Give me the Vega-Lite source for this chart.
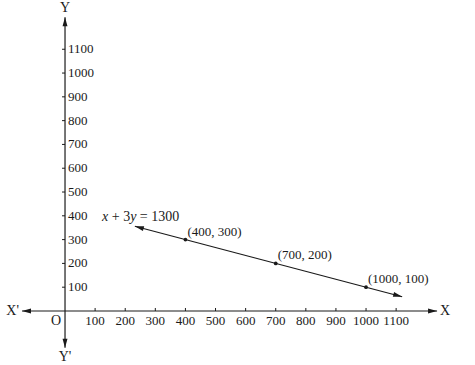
{
  "$schema": "https://vega.github.io/schema/vega-lite/v6.json",
  "width": 475,
  "height": 365,
  "padding": 0,
  "autosize": {"type": "none"},
  "background": "white",
  "config": {"view": {"stroke": null}, "text": {"font": "Liberation Serif", "fontSize": 13, "color": "#1a1a1a"}},
  "datasets": {
    "axes": [{"x": -143, "y": 0, "x2": 1236, "y2": 0}, {"x": 0, "y": -155, "x2": 0, "y2": 1235}],
    "xticks": [
      {"x": 100, "y": 0, "label": "100"}, {"x": 200, "y": 0, "label": "200"}, {"x": 300, "y": 0, "label": "300"},
      {"x": 400, "y": 0, "label": "400"}, {"x": 500, "y": 0, "label": "500"}, {"x": 600, "y": 0, "label": "600"},
      {"x": 700, "y": 0, "label": "700"}, {"x": 800, "y": 0, "label": "800"}, {"x": 900, "y": 0, "label": "900"},
      {"x": 1000, "y": 0, "label": "1000"}, {"x": 1100, "y": 0, "label": "1100"}
    ],
    "yticks": [
      {"x": 0, "y": 100, "label": "100"}, {"x": 0, "y": 200, "label": "200"}, {"x": 0, "y": 300, "label": "300"},
      {"x": 0, "y": 400, "label": "400"}, {"x": 0, "y": 500, "label": "500"}, {"x": 0, "y": 600, "label": "600"},
      {"x": 0, "y": 700, "label": "700"}, {"x": 0, "y": 800, "label": "800"}, {"x": 0, "y": 900, "label": "900"},
      {"x": 0, "y": 1000, "label": "1000"}, {"x": 0, "y": 1100, "label": "1100"}
    ],
    "line": [{"x": 232, "y": 356}, {"x": 1120, "y": 60}],
    "points": [
      {"x": 400, "y": 300, "label": "(400, 300)"},
      {"x": 700, "y": 200, "label": "(700, 200)"},
      {"x": 1000, "y": 100, "label": "(1000, 100)"}
    ],
    "eq": [{"x": 123, "y": 395}],
    "origin": [{"x": 0, "y": 0, "label": "O"}],
    "xpos": [{"x": 1236, "y": 0, "label": "X"}],
    "xneg": [{"x": -143, "y": 0, "label": "X'"}],
    "ypos": [{"x": 0, "y": 1235, "label": "Y"}],
    "yneg": [{"x": 0, "y": -155, "label": "Y'"}],
    "lineRight": [{"x": 1120, "y": 60}],
    "lineLeft": [{"x": 232, "y": 356}]
  },
  "encoding": {
    "x": {"field": "x", "type": "quantitative", "scale": {"domain": [-216, 1362], "nice": false, "zero": false}, "axis": null},
    "y": {"field": "y", "type": "quantitative", "scale": {"domain": [-227, 1307], "nice": false, "zero": false}, "axis": null}
  },
  "layer": [
    {"data": {"name": "axes"}, "mark": {"type": "rule", "color": "#1a1a1a", "strokeWidth": 1.2},
     "encoding": {"x2": {"field": "x2"}, "y2": {"field": "y2"}}},
    {"data": {"name": "line"}, "mark": {"type": "line", "color": "#1a1a1a", "strokeWidth": 1.2}, "encoding": {}},
    {"data": {"name": "xpos"}, "mark": {"type": "point", "shape": "M0,0L-2,-0.55L-2,0.55Z", "size": 81, "filled": true, "color": "#1a1a1a", "opacity": 1, "angle": 0}, "encoding": {}},
    {"data": {"name": "xneg"}, "mark": {"type": "point", "shape": "M0,0L-2,-0.55L-2,0.55Z", "size": 81, "filled": true, "color": "#1a1a1a", "opacity": 1, "angle": 180}, "encoding": {}},
    {"data": {"name": "ypos"}, "mark": {"type": "point", "shape": "M0,0L-2,-0.55L-2,0.55Z", "size": 81, "filled": true, "color": "#1a1a1a", "opacity": 1, "angle": 270}, "encoding": {}},
    {"data": {"name": "yneg"}, "mark": {"type": "point", "shape": "M0,0L-2,-0.55L-2,0.55Z", "size": 81, "filled": true, "color": "#1a1a1a", "opacity": 1, "angle": 90}, "encoding": {}},
    {"data": {"name": "lineRight"}, "mark": {"type": "point", "shape": "M0,0L-2,-0.55L-2,0.55Z", "size": 81, "filled": true, "color": "#1a1a1a", "opacity": 1, "angle": 14.8}, "encoding": {}},
    {"data": {"name": "lineLeft"}, "mark": {"type": "point", "shape": "M0,0L-2,-0.55L-2,0.55Z", "size": 81, "filled": true, "color": "#1a1a1a", "opacity": 1, "angle": 194.8}, "encoding": {}},
    {"data": {"name": "xticks"}, "mark": {"type": "point", "shape": "M0,0L0,-1.5", "size": 16, "filled": false, "color": "#1a1a1a", "opacity": 1, "strokeWidth": 1}, "encoding": {}},
    {"data": {"name": "yticks"}, "mark": {"type": "point", "shape": "M0,0L-1.5,0", "size": 16, "filled": false, "color": "#1a1a1a", "opacity": 1, "strokeWidth": 1}, "encoding": {}},
    {"data": {"name": "xticks"}, "mark": {"type": "text", "align": "center", "baseline": "middle", "dy": 10}, "encoding": {"text": {"field": "label"}}},
    {"data": {"name": "yticks"}, "mark": {"type": "text", "align": "left", "baseline": "middle", "dx": 3}, "encoding": {"text": {"field": "label"}}},
    {"data": {"name": "origin"}, "mark": {"type": "text", "align": "center", "baseline": "middle", "dx": -9, "dy": 10, "fontSize": 14}, "encoding": {"text": {"field": "label"}}},
    {"data": {"name": "xpos"}, "mark": {"type": "text", "align": "left", "baseline": "middle", "dx": 3, "fontSize": 14}, "encoding": {"text": {"field": "label"}}},
    {"data": {"name": "xneg"}, "mark": {"type": "text", "align": "right", "baseline": "middle", "dx": -3, "fontSize": 14}, "encoding": {"text": {"field": "label"}}},
    {"data": {"name": "ypos"}, "mark": {"type": "text", "align": "center", "baseline": "bottom", "dy": -2, "fontSize": 14}, "encoding": {"text": {"field": "label"}}},
    {"data": {"name": "yneg"}, "mark": {"type": "text", "align": "center", "baseline": "top", "dy": 2, "fontSize": 14}, "encoding": {"text": {"field": "label"}}},
    {"data": {"name": "points"}, "mark": {"type": "point", "filled": true, "size": 14, "color": "#1a1a1a", "opacity": 1}, "encoding": {}},
    {"data": {"name": "points"}, "mark": {"type": "text", "align": "left", "baseline": "middle", "dx": 2, "dy": -8}, "encoding": {"text": {"field": "label"}}},
    {"data": {"name": "eq"}, "mark": {"type": "text", "align": "left", "baseline": "middle", "fontSize": 14, "fontStyle": "italic", "text": "x"}, "encoding": {}},
    {"data": {"name": "eq"}, "mark": {"type": "text", "align": "left", "baseline": "middle", "fontSize": 14, "dx": 9.7, "text": "+ 3"}, "encoding": {}},
    {"data": {"name": "eq"}, "mark": {"type": "text", "align": "left", "baseline": "middle", "fontSize": 14, "fontStyle": "italic", "dx": 28.1, "text": "y"}, "encoding": {}},
    {"data": {"name": "eq"}, "mark": {"type": "text", "align": "left", "baseline": "middle", "fontSize": 14, "dx": 37.8, "text": "= 1300"}, "encoding": {}}
  ]
}
